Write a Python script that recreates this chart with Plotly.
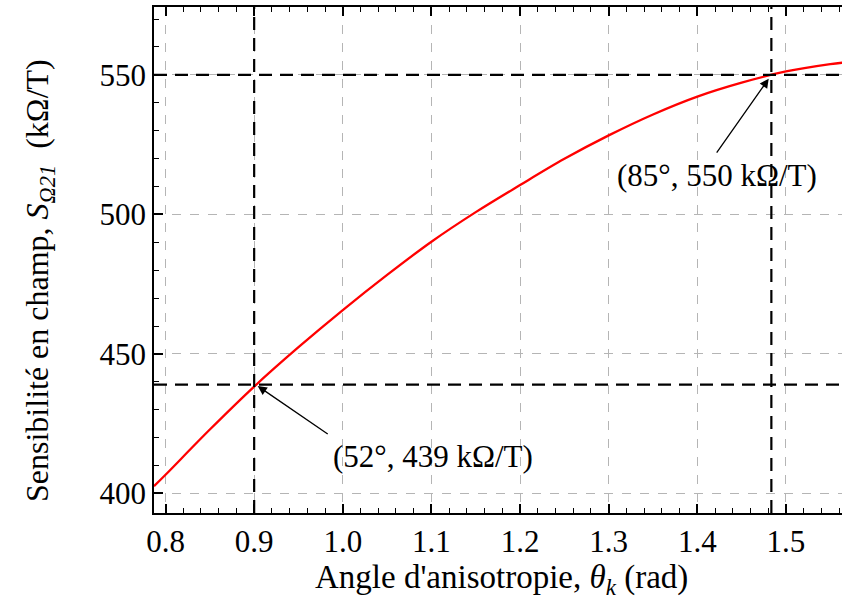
import plotly.graph_objects as go

# Data
theta = [0.787, 0.80, 0.85, 0.90, 0.95, 1.00, 1.05, 1.10, 1.15, 1.20, 1.25, 1.30,
         1.35, 1.40, 1.45, 1.50, 1.55, 1.5708]
sens = [402.6, 406.7, 422.9, 438.3, 452.4, 465.7, 478.3, 490.2, 500.8, 510.5, 519.9, 528.3,
        535.8, 542.2, 547.2, 551.2, 553.8, 554.6]

ref_x = [0.90, 1.4835]
ref_y = [439, 550]
ann_text = ["(52°, 439 kΩ/T)", "(85°, 550 kΩ/T)"]

x_ticks = [0.8, 0.9, 1.0, 1.1, 1.2, 1.3, 1.4, 1.5]
x_ticklabels = ["0.8", "0.9", "1.0", "1.1", "1.2", "1.3", "1.4", "1.5"]
y_ticks = [400, 450, 500, 550]

x_title = "Angle d'anisotropie, <i>θ</i><sub><i>k</i></sub> (rad)"
y_title = "Sensibilité en champ, <i>S</i><sub><i>Ω21</i></sub>  (kΩ/T)"

FONT = "Liberation Serif, Times New Roman, serif"
TICK_SIZE = 31
TITLE_SIZE = 33

fig = go.Figure()
fig.add_trace(go.Scatter(x=theta, y=sens, mode="lines",
                         line=dict(color="#ff0000", width=2.3, shape="spline", smoothing=1.0),
                         showlegend=False, hoverinfo="skip"))

for xv in ref_x:
    fig.add_vline(x=xv, line=dict(color="black", width=2.2, dash="13px,8px"))
for yv in ref_y:
    fig.add_hline(y=yv, line=dict(color="black", width=2.2, dash="13px,8px"))

# labels with arrows (tail at the text box edge)
fig.add_annotation(x=0.904, y=438.5, ax=70, ay=48, axref="pixel", ayref="pixel",
                   text=ann_text[0], showarrow=True, arrowhead=2, arrowsize=1.4,
                   arrowwidth=1.3, arrowcolor="black", xanchor="left", yanchor="top",
                   borderpad=4,
                   font=dict(family=FONT, size=TICK_SIZE, color="black"))
fig.add_annotation(x=1.4805, y=548.6, ax=-52, ay=74, axref="pixel", ayref="pixel",
                   text=ann_text[1], showarrow=True, arrowhead=2, arrowsize=1.4,
                   arrowwidth=1.3, arrowcolor="black", xanchor="center", yanchor="top",
                   borderpad=4,
                   font=dict(family=FONT, size=TICK_SIZE, color="black"))

# axis titles
fig.add_annotation(xref="paper", yref="paper", x=0.5044, y=-0.1324,
                   text=x_title, showarrow=False, xanchor="center", yanchor="middle",
                   font=dict(family=FONT, size=TITLE_SIZE, color="black"))
fig.add_annotation(xref="paper", yref="paper", x=-0.1657, y=0.4605,
                   text=y_title, showarrow=False, textangle=-90,
                   xanchor="center", yanchor="middle",
                   font=dict(family=FONT, size=32, color="black"))

fig.update_layout(
    width=842, height=611,
    margin=dict(l=154, r=0, t=7, b=98),
    paper_bgcolor="white", plot_bgcolor="white",
    font=dict(family=FONT, size=TICK_SIZE, color="black"),
    xaxis=dict(
        range=[0.787, 1.5632], tickvals=x_ticks, ticktext=x_ticklabels,
        ticks="inside", ticklen=9, tickwidth=1.5, tickcolor="black",
        showline=True, linecolor="black", linewidth=1.5, mirror="allticks",
        showgrid=True, gridcolor="#b5b5b5", griddash="dash", gridwidth=1,
        zeroline=False,
        minor=dict(dtick=0.02, tick0=0.8, ticks="inside", ticklen=5,
                   tickcolor="black", tickwidth=1.2, showgrid=False),
        tickfont=dict(family=FONT, size=TICK_SIZE),
    ),
    yaxis=dict(
        range=[393, 574.3], tickvals=y_ticks,
        ticks="inside", ticklen=9, tickwidth=1.5, tickcolor="black",
        showline=True, linecolor="black", linewidth=1.5, mirror=False,
        showgrid=True, gridcolor="#b5b5b5", griddash="dash", gridwidth=1,
        zeroline=False,
        minor=dict(dtick=10, tick0=400, ticks="inside", ticklen=5,
                   tickcolor="black", tickwidth=1.2, showgrid=False),
        tickfont=dict(family=FONT, size=TICK_SIZE),
    ),
)

fig.write_html("out.html", config={"displayModeBar": False},
               post_script="document.body.style.margin='0';document.body.style.overflow='hidden';")
